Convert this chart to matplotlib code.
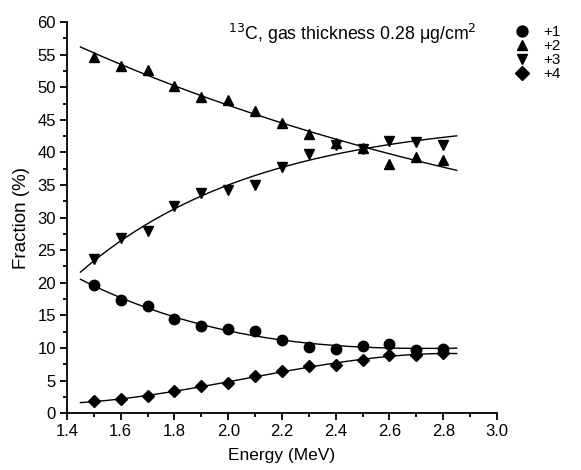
import numpy as np
import matplotlib
matplotlib.use("Agg")
import matplotlib.pyplot as plt
from matplotlib.ticker import MultipleLocator, FormatStrFormatter

plt.rcParams['font.family'] = ['Liberation Sans', 'DejaVu Sans']

energy = [1.5, 1.6, 1.7, 1.8, 1.9, 2.0, 2.1, 2.2, 2.3, 2.4, 2.5, 2.6, 2.7, 2.8]
q1 = [19.7, 17.4, 16.4, 14.4, 13.4, 12.9, 12.6, 11.2, 10.1, 9.9, 10.3, 10.6, 9.7, 9.9]
q2 = [54.7, 53.3, 52.7, 50.2, 48.5, 48.1, 46.3, 44.5, 42.8, 41.5, 40.7, 38.2, 39.3, 38.8]
q3 = [23.6, 26.8, 28.0, 31.8, 33.8, 34.3, 35.0, 37.8, 39.8, 41.2, 40.5, 41.8, 41.6, 41.1]
q4 = [1.8, 2.2, 2.6, 3.4, 4.1, 4.6, 5.7, 6.5, 7.2, 7.4, 8.2, 8.9, 8.9, 9.2]
labels = ['+1', '+2', '+3', '+4']
markers = ['o', '^', 'v', 'D']
fit_kind = ['poly3', 'exp', 'exp', 'poly3']


def expfit(x, y):
    """Least-squares fit y = A + B*exp(-x/t), grid search over t (both signs)."""
    x = np.asarray(x, float)
    y = np.asarray(y, float)
    best = None
    for t in np.concatenate([np.linspace(0.05, 20, 2000), -np.linspace(0.05, 20, 2000)]):
        M = np.column_stack([np.ones_like(x), np.exp(-x / t)])
        coef, *_ = np.linalg.lstsq(M, y, rcond=None)
        r = np.sum((M @ coef - y) ** 2)
        if best is None or r < best[0]:
            best = (r, t, coef)
    _, t, coef = best
    return lambda xx: coef[0] + coef[1] * np.exp(-np.asarray(xx) / t)


def fit(x, y, kind):
    if kind == 'exp':
        return expfit(x, y)
    c = np.polyfit(x, y, 3)
    return lambda xx: np.polyval(c, xx)


fig = plt.figure(figsize=(5.81, 4.70), dpi=100)
ax = fig.add_axes([0.1153, 0.121, 0.7401, 0.832])

xf = np.linspace(1.45, 2.85, 200)
handles = []
for ys, m, lab, k in zip([q1, q2, q3, q4], markers, labels, fit_kind):
    ms = 6.5 if m == 'D' else 7.5
    h, = ax.plot(energy, ys, linestyle='none', marker=m, color='black', markersize=ms, label=lab)
    handles.append(h)
    f = fit(energy, ys, k)
    ax.plot(xf, f(xf), color='black', linewidth=1.0)

ax.set_xlim(1.4, 3.0)
ax.set_ylim(0, 60)
ax.xaxis.set_major_locator(MultipleLocator(0.2))
ax.xaxis.set_minor_locator(MultipleLocator(0.1))
ax.yaxis.set_major_locator(MultipleLocator(5))
ax.yaxis.set_minor_locator(MultipleLocator(2.5))
ax.xaxis.set_major_formatter(FormatStrFormatter('%.1f'))
for s in ['top', 'right']:
    ax.spines[s].set_visible(False)
for s in ['left', 'bottom']:
    ax.spines[s].set_linewidth(1.3)
ax.tick_params(which='major', direction='out', length=5, width=1.3, labelsize=12, pad=3)
ax.tick_params(which='minor', direction='out', length=3, width=1.3)
ax.set_xlabel('Energy (MeV)', fontsize=12.5, labelpad=6)
ax.set_ylabel('Fraction (%)', fontsize=13.5, labelpad=5)

ax.text(0.375, 0.97, r'$^{13}$C, gas thickness 0.28 $\mathregular{\mu}$g/cm$^{2}$',
        transform=ax.transAxes, fontsize=12.8, ha='left', va='center')

fig.legend(handles=handles, labels=labels, loc='upper left', bbox_to_anchor=(0.89, 0.947),
           frameon=False, fontsize=11, handlelength=0.7, handletextpad=1.0,
           labelspacing=0.0, borderaxespad=0, borderpad=0, markerscale=1.05)

fig.savefig('out.png', dpi=100)
